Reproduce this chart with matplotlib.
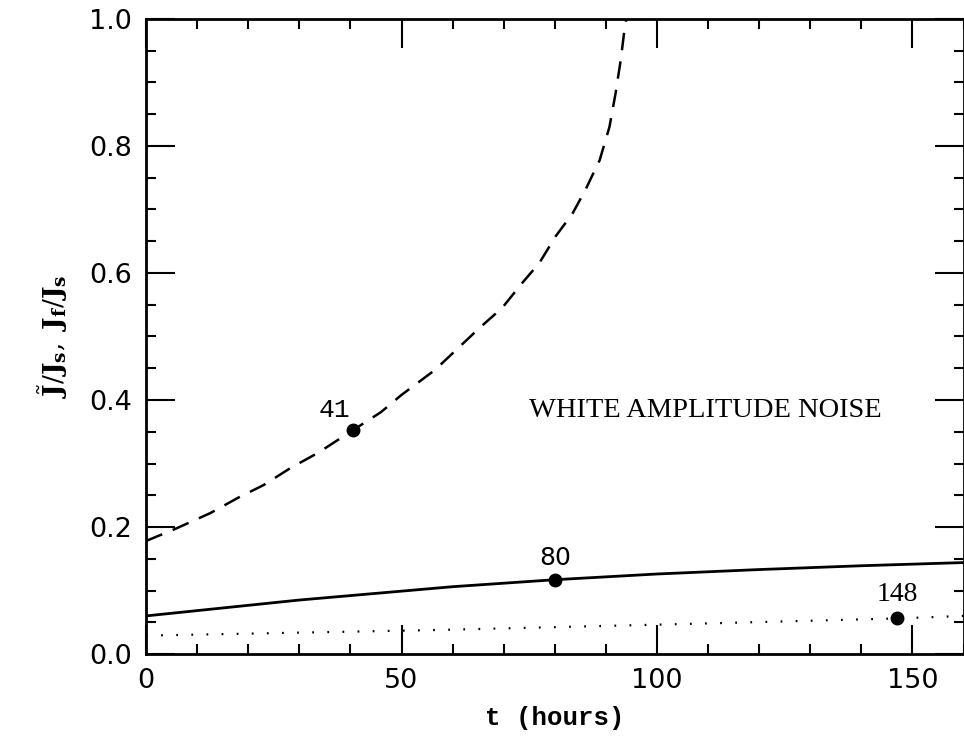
import numpy as np
import matplotlib.pyplot as plt
from matplotlib.ticker import MultipleLocator, FormatStrFormatter

# dashed curve (J-tilde / Js)
t_dash = [0, 6, 12.6, 18, 23, 28.3, 33.7, 40.6, 46, 50, 56.5, 65.2, 69.7, 73.6, 77,
          80.1, 83.5, 86, 88.8, 90.7, 91.9, 92.9, 93.7, 94]
j_dash = [0.178, 0.198, 0.222, 0.246, 0.266, 0.293, 0.317, 0.353, 0.381, 0.408, 0.447,
          0.513, 0.545, 0.584, 0.616, 0.657, 0.694, 0.731, 0.778, 0.830, 0.883, 0.935,
          0.987, 1.0]

# solid curve
t_solid = [0, 30, 60, 80, 100, 120, 140, 160]
j_solid = [0.060, 0.085, 0.106, 0.117, 0.126, 0.133, 0.139, 0.144]

# dotted curve
t_dot = [0, 58, 109, 147, 160]
j_dot = [0.029, 0.038, 0.048, 0.056, 0.060]

# marked points and their labels
mark_t = [40.6, 80.1, 147]
mark_j = [0.353, 0.117, 0.056]
mark_lbl = ['41', '80', '148']

plt.rcParams['mathtext.fontset'] = 'dejavuserif'

fig = plt.figure(figsize=(9.64, 7.38), dpi=100)
ax = fig.add_axes([0.1515, 0.1138, 0.848, 0.8605])

ax.plot(t_dash, j_dash, color='black', lw=1.8, ls=(0, (7, 4.5)))
ax.plot(t_solid, j_solid, color='black', lw=2.0)
ax.plot(t_dot, j_dot, color='black', lw=1.6, ls=(0, (0.8, 6)))
ax.plot(mark_t, mark_j, 'o', color='black', ms=9)

ax.text(mark_t[0] - 3.8, mark_j[0] + 0.012, mark_lbl[0], ha='center', va='bottom',
        fontsize=19, family='Liberation Mono')
ax.text(mark_t[1], mark_j[1] + 0.015, mark_lbl[1], ha='center', va='bottom', fontsize=18)
ax.text(mark_t[2], mark_j[2] + 0.018, mark_lbl[2], ha='center', va='bottom',
        fontsize=20, family='Liberation Serif')
ax.text(75, 0.363, 'WHITE AMPLITUDE NOISE', fontsize=20.5, family='Liberation Serif',
        va='bottom')

ax.set_xlim(0, 160)
ax.set_ylim(0, 1.0)
ax.xaxis.set_major_locator(MultipleLocator(50))
ax.xaxis.set_minor_locator(MultipleLocator(10))
ax.yaxis.set_major_locator(MultipleLocator(0.2))
ax.yaxis.set_minor_locator(MultipleLocator(0.05))
ax.yaxis.set_major_formatter(FormatStrFormatter('%.1f'))
ax.tick_params(which='both', direction='in', top=True, right=True, width=1.5,
               labelsize=19.5, pad=10)
ax.tick_params(which='major', length=21)
ax.tick_params(which='minor', length=7)
for s in ax.spines.values():
    s.set_linewidth(2)

ax.set_xlabel('t (hours)', fontsize=18.5, family='Liberation Mono', fontweight='bold',
              labelpad=9)
ax.set_ylabel(r'$\tilde{\mathbf{J}}/\mathbf{J_s},\ \mathbf{J_f}/\mathbf{J_s}$',
              fontsize=19, labelpad=14)

fig.savefig('out.png', dpi=100)
